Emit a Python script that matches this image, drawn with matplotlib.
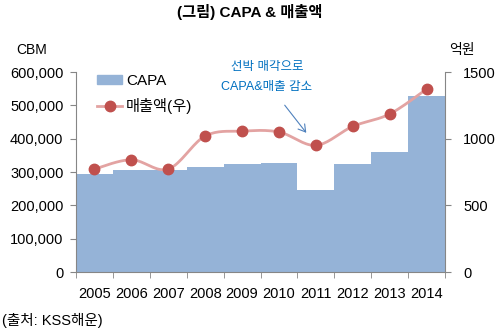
import numpy as np
import matplotlib
matplotlib.use('Agg')
import matplotlib.pyplot as plt
from matplotlib.lines import Line2D
from matplotlib.patches import Patch, FancyArrowPatch

plt.rcParams['font.family'] = ['Liberation Sans', 'Noto Sans CJK KR', 'DejaVu Sans']

years = ['2005', '2006', '2007', '2008', '2009', '2010', '2011', '2012', '2013', '2014']
capa = [294000, 306000, 305000, 315000, 325000, 327000, 246000, 325000, 360000, 528000]
sales = [772, 842, 772, 1020, 1057, 1050, 950, 1092, 1185, 1372]

BAR = '#95B3D7'
LINE = '#E3A3A2'
MARK = '#C0504D'
AX = '#868686'


def smooth(xs, ys, n=20):
    # excel-like smoothed line (catmull-rom), only for drawing
    xs = np.asarray(xs, float)
    ys = np.asarray(ys, float)
    px = np.concatenate([[xs[0]], xs, [xs[-1]]])
    py = np.concatenate([[ys[0]], ys, [ys[-1]]])
    ox, oy = [], []
    t = np.linspace(0, 1, n)
    for i in range(1, len(px) - 2):
        for p, o in ((px, ox), (py, oy)):
            p0, p1, p2, p3 = p[i - 1], p[i], p[i + 1], p[i + 2]
            c1 = p1 + (p2 - p0) / 6
            c2 = p2 - (p3 - p1) / 6
            o.extend((1 - t) ** 3 * p1 + 3 * (1 - t) ** 2 * t * c1 + 3 * (1 - t) * t ** 2 * c2 + t ** 3 * p2)
    return ox, oy


fig = plt.figure(figsize=(4.99, 3.32), dpi=100)
ax = fig.add_axes([0.1523, 0.1807, 0.7395, 0.6024])
ax2 = ax.twinx()

x = np.arange(len(years))
ax.bar(x, capa, width=1.0, color=BAR, zorder=1)
ax.set_xlim(-0.5, len(years) - 0.5)
ax.set_ylim(0, 600000)
ax.set_yticks(range(0, 600001, 100000))
ax.set_yticklabels([f'{v:,}' for v in range(0, 600001, 100000)])
ax.set_xticks(x)
ax.set_xticklabels(years)
ax.set_xticks(np.arange(-0.5, len(years)), minor=True)
ax.tick_params(axis='x', which='major', length=0, pad=11, labelsize=10.5)
ax.tick_params(axis='x', which='minor', length=4, color=AX)
ax.tick_params(axis='y', length=4, color=AX, labelsize=10.5, pad=5)

sx, sy = smooth(x, sales)
ax2.plot(sx, sy, color=LINE, lw=2, zorder=3)
ax2.plot(x, sales, 'o', color=MARK, ms=7.5, zorder=4)
ax2.set_ylim(0, 1500)
ax2.set_yticks([0, 500, 1000, 1500])
ax2.tick_params(axis='y', length=4, color=AX, labelsize=10.5, pad=9)

for a in (ax, ax2):
    a.spines['top'].set_visible(False)
    for s in ('left', 'right', 'bottom'):
        a.spines[s].set_color(AX)
ax.spines['right'].set_visible(False)
ax2.spines['left'].set_visible(False)
ax2.spines['bottom'].set_visible(False)

handles = [Patch(color=BAR, label='CAPA'),
           Line2D([], [], color=LINE, lw=2, marker='o', mfc=MARK, mec=MARK, ms=7.5,
                  label='매출액(우)')]
ax.legend(handles=handles, loc='upper left', bbox_to_anchor=(0.02, 1.06), frameon=False,
          fontsize=11, handlelength=1.65, handleheight=0.5, handletextpad=0.25,
          labelspacing=0.68)

fig.text(0.5, 0.965, '(그림) CAPA & 매출액', ha='center', va='center',
         fontsize=11, fontweight='bold')
fig.text(0.064, 0.85, 'CBM', ha='center', va='center', fontsize=10)
fig.text(0.926, 0.85, '억원', ha='center', va='center', fontsize=10)
fig.text(0.004, 0.035, '(출처: KSS해운)', ha='left', va='center', fontsize=10.5)

fig.text(0.535, 0.798, '선박 매각으로', ha='center', va='center', fontsize=9, color='#0070C0')
fig.text(0.535, 0.737, 'CAPA&매출 감소', ha='center', va='center', fontsize=9, color='#0070C0')
fig.add_artist(FancyArrowPatch(
    (283 / 499, 1 - 103 / 332), (308 / 499, 1 - 135 / 332),
    transform=fig.transFigure, arrowstyle='->,head_length=5,head_width=3',
    color='#4F81BD', lw=0.8))

fig.savefig('out.png', dpi=100)
